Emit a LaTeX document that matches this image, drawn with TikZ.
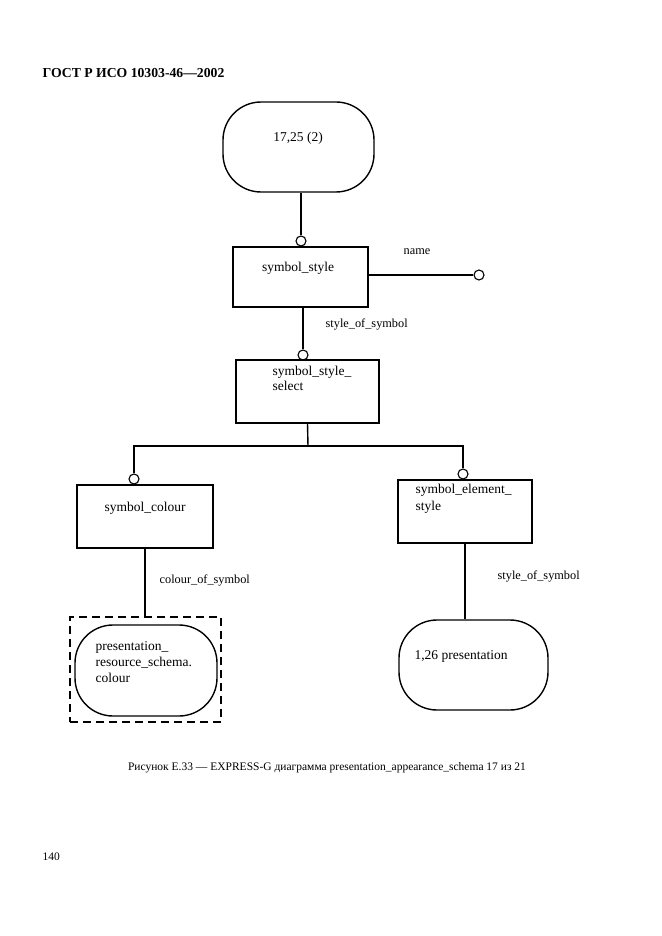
\documentclass[tikz,border=0pt]{standalone}
\usepackage{fontspec}
\setmainfont{Liberation Serif}
\usepackage{xcolor}
\usepackage{tikz}

\begin{document}
\begin{tikzpicture}[x=1pt,y=-1pt,line width=1.4pt,
    entbox/.style={draw,rectangle,inner sep=0pt},
    typebox/.style={draw,rectangle,rounded corners=38pt,inner sep=0pt},
    ring/.style={draw,circle,fill=white,inner sep=0pt,minimum size=10pt,line width=1.1pt},
    boxtext/.style={inner sep=0pt,font=\fontsize{13.5}{15.5}\selectfont},
    reltext/.style={inner sep=0pt,font=\fontsize{12.3}{14}\selectfont}]
                \useasboundingbox (0,0) rectangle (661,936);
                \node[anchor=base west,inner sep=0pt,font=\fontsize{13.7}{16}\selectfont\bfseries] (head) at (42,78) {ГОСТ Р ИСО 10303-46—2002};
                \node[typebox,minimum width=151pt,minimum height=90pt] (top) at (298.5,147) {};
                \node[boxtext] (topt) at (298,138) {17,25 (2)};
                \node[ring] (ringA) at (301,241) {};
                \node[entbox,minimum width=135pt,minimum height=60pt] (symstyle) at (300.5,277) {};
                \node[boxtext] (symstylet) at (298,268) {symbol\_style};
                \node[ring] (ringN) at (479,275) {};
                \node[reltext,anchor=west] (namet) at (403,252) {name};
                \node[ring] (ringB) at (303,355) {};
                \node[reltext,anchor=west] (relA) at (325,324) {style\_of\_symbol};
                \node[entbox,minimum width=143pt,minimum height=63pt] (select) at (307.5,391.5) {};
                \node[boxtext,anchor=north west,align=left] (selectt) at (272,365) {symbol\_style\_\\select};
                \coordinate (fork) at (308,446);
                \node[ring] (ringC) at (134,479) {};
                \node[entbox,minimum width=136pt,minimum height=63pt] (colour) at (145,516.5) {};
                \node[boxtext] (colourt) at (145,508) {symbol\_colour};
                \node[ring] (ringD) at (463,474) {};
                \node[entbox,minimum width=134pt,minimum height=63pt] (element) at (465,511.5) {};
                \node[boxtext,anchor=north west,align=left,font=\fontsize{13.5}{17}\selectfont] (elementt) at (415,483) {symbol\_element\_\\style};
                \node[reltext,anchor=west] (relB) at (159,580) {colour\_of\_symbol};
                \node[reltext,anchor=west] (relC) at (497,576) {style\_of\_symbol};
                \node[draw,rectangle,dash pattern=on 8pt off 5pt,line width=1.8pt,minimum width=151pt,minimum height=105pt] (dashbox) at (145.5,669.5) {};
                \node[typebox,minimum width=142pt,minimum height=91pt] (colref) at (146,670.5) {};
                \node[boxtext,anchor=north west,align=left,font=\fontsize{13.5}{15.7}\selectfont] (colreft) at (95,641) {presentation\_\\resource\_schema.\\colour};
                \node[typebox,minimum width=149pt,minimum height=90pt] (pres) at (473.5,665) {};
                \node[boxtext] (prest) at (461,656) {1,26 presentation};
                \draw (ringA.north) -- (ringA.north |- top.south);
                \draw (symstyle.east |- ringN) -- (ringN.west);
                \draw (ringB.north) -- (ringB.north |- symstyle.south);
                \draw (select.south) -- (fork);
                \draw (ringC.north) |- (fork) -| (ringD.north);
                \draw (colour.south) -- (colour.south |- dashbox.north);
                \draw (element.south) -- (element.south |- pres.north);
                \node[anchor=base,inner sep=0pt,font=\fontsize{11.5}{13}\selectfont] (caption) at (327,770) {Рисунок Е.33 — EXPRESS-G диаграмма presentation\_appearance\_schema 17 из 21};
                \node[anchor=base west,inner sep=0pt,font=\fontsize{11.5}{13}\selectfont] (page) at (42,860) {140};
            \end{tikzpicture}
\end{document}
